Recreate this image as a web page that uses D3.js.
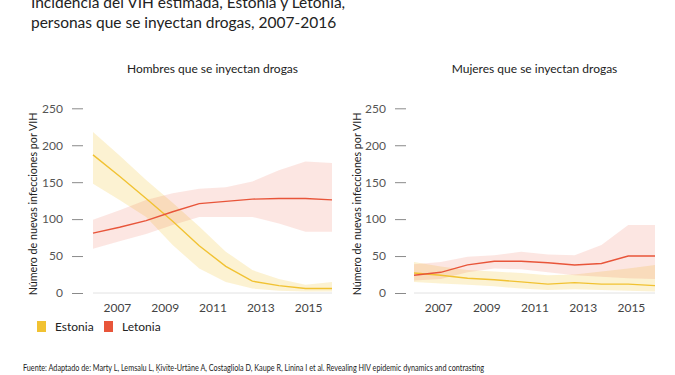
<!DOCTYPE html>
<html>
<head>
<meta charset="utf-8">
<script src="https://cdn.jsdelivr.net/npm/d3@7"></script>
<style>
  body { margin: 0; background: #fff; }
  svg { display: block; font-family: Lato, "Open Sans", sans-serif; }
</style>
</head>
<body>
<div id="chart"></div>
<script>
// data years (plotted across the full panel width)
const years = [2007, 2008, 2009, 2010, 2011, 2012, 2013, 2014, 2015, 2016];
const tickYears = [2007, 2009, 2011, 2013, 2015];
const yTicks = [0, 50, 100, 150, 200, 250];

// Hombres
const menEstonia = [187, 158, 128, 97, 64, 36, 16, 10, 6, 6];
const menEstoniaLow = [148, 126, 103, 65, 33, 15, 6, 3, 2, 2];
const menEstoniaHigh = [218, 186, 153, 122, 90, 56, 31, 19, 11, 15];
const menLatvia = [81, 89, 98, 110, 121, 124, 127, 128, 128, 126];
const menLatviaLow = [60, 70, 80, 92, 103, 103, 103, 94, 83, 83];
const menLatviaHigh = [99, 112, 126, 135, 141, 143, 151, 166, 178, 176];

// Mujeres
const womenEstonia = [27, 24, 20, 18, 15, 12, 14, 12, 12, 10];
const womenEstoniaLow = [15, 13, 11, 9, 6, 4, 5, 4, 3, 2];
const womenEstoniaHigh = [42, 36, 31, 29, 27, 24, 25, 29, 33, 38];
const womenLatvia = [24, 28, 38, 43, 43, 41, 38, 40, 50, 50];
const womenLatviaLow = [17, 19, 28, 33, 32, 28, 24, 22, 20, 19];
const womenLatviaHigh = [39, 42, 49, 51, 56, 52, 51, 65, 92, 92];

const series = ["Estonia", "Letonia"];
const colors = { Estonia: "#f1c232", Letonia: "#e8553a" };

const width = 675, height = 375;
const svg = d3.select("#chart").append("svg")
  .attr("width", width).attr("height", height)
  .attr("viewBox", `0 0 ${width} ${height}`);

// titulo (recortado arriba)
const title = svg.append("text")
  .style("font-size", "15.5px").style("fill", "#222");
title.append("tspan").attr("x", 31).attr("y", 8)
  .text("Incidencia del VIH estimada, Estonia y Letonia,");
title.append("tspan").attr("x", 31).attr("y", 28)
  .text("personas que se inyectan drogas, 2007-2016");

const y = d3.scaleLinear().domain([0, 250]).range([293, 108.3]);

function panel(opts) {
  const g = svg.append("g");
  const x = d3.scaleLinear().domain([2007, 2016]).range(opts.range);
  const xTick = d3.scaleLinear().domain([2006, 2016]).range(opts.range);

  g.append("text")
    .attr("x", (opts.range[0] + opts.range[1]) / 2).attr("y", 73)
    .attr("text-anchor", "middle")
    .style("font-size", "12px").style("fill", "#222")
    .text(opts.title);

  // linea base
  g.append("line")
    .attr("x1", opts.range[0]).attr("x2", opts.range[1])
    .attr("y1", y(0)).attr("y2", y(0))
    .style("stroke", "#e2e2e2").style("stroke-width", 1);

  const area = d3.area()
    .x((d, i) => x(years[i]))
    .y0(d => y(d[0]))
    .y1(d => y(d[1]));
  const line = d3.line()
    .x((d, i) => x(years[i]))
    .y(d => y(d));

  opts.data.forEach(s => {
    const band = s.low.map((v, i) => [v, s.high[i]]);
    g.append("path")
      .datum(band)
      .attr("d", area)
      .style("fill", colors[s.name])
      .style("fill-opacity", s.name === "Estonia" ? 0.22 : 0.15);
  });
  opts.data.forEach(s => {
    g.append("path")
      .datum(s.mid)
      .attr("d", line)
      .style("fill", "none")
      .style("stroke", colors[s.name])
      .style("stroke-width", 1.4);
  });

  const yAxis = g.append("g")
    .attr("transform", `translate(${opts.axisX},0)`)
    .call(d3.axisLeft(y).tickValues(yTicks).tickSize(11).tickPadding(9));
  yAxis.select(".domain").remove();
  yAxis.selectAll("line").style("stroke", "#8a8a8a");
  yAxis.selectAll("text").style("font-size", "12px").style("fill", "#555")
    .style("font-family", "Lato, sans-serif");

  const xAxis = g.append("g")
    .attr("transform", `translate(0,${y(0)})`)
    .call(d3.axisBottom(xTick).tickValues(tickYears).tickFormat(d3.format("d")).tickSize(0).tickPadding(10));
  xAxis.select(".domain").remove();
  xAxis.selectAll("text").style("font-size", "12px").style("fill", "#444")
    .style("font-family", "Lato, sans-serif");

  g.append("text")
    .attr("transform", `translate(${opts.labelX},${204}) rotate(-90)`)
    .attr("text-anchor", "middle")
    .attr("dy", "0.35em")
    .style("font-size", "10.7px").style("fill", "#222")
    .text("Número de nuevas infecciones por VIH");
}

panel({
  title: "Hombres que se inyectan drogas",
  range: [93, 332], axisX: 83, labelX: 33,
  data: [
    { name: "Estonia", mid: menEstonia, low: menEstoniaLow, high: menEstoniaHigh },
    { name: "Letonia", mid: menLatvia, low: menLatviaLow, high: menLatviaHigh }
  ]
});
panel({
  title: "Mujeres que se inyectan drogas",
  range: [414, 655], axisX: 406, labelX: 357,
  data: [
    { name: "Estonia", mid: womenEstonia, low: womenEstoniaLow, high: womenEstoniaHigh },
    { name: "Letonia", mid: womenLatvia, low: womenLatviaLow, high: womenLatviaHigh }
  ]
});

// leyenda
const legend = svg.append("g").attr("transform", "translate(37,321)");
const item = legend.selectAll("g").data(series).join("g")
  .attr("transform", (d, i) => `translate(${i * 67},0)`);
item.append("rect").attr("width", 9).attr("height", 11)
  .style("fill", d => colors[d]);
item.append("text").attr("x", 18).attr("y", 5.5).attr("dy", "0.35em")
  .style("font-size", "12px").style("fill", "#222")
  .text(d => d);

svg.append("text")
  .attr("x", 23).attr("y", 371)
  .attr("textLength", 461).attr("lengthAdjust", "spacingAndGlyphs")
  .style("font-size", "9.5px").style("fill", "#222")
  .text("Fuente: Adaptado de: Marty L, Lemsalu L, Ķivīte-Urtāne A, Costagliola D, Kaupe R, Linina I et al. Revealing HIV epidemic dynamics and contrasting");
</script>
</body>
</html>
